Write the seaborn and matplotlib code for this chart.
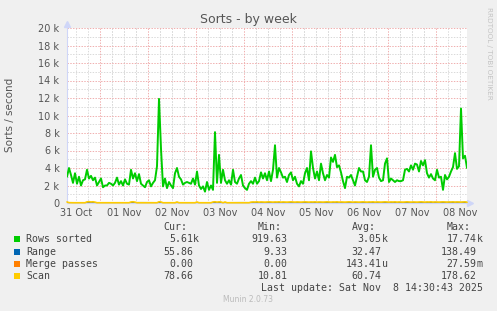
import numpy as np
import pandas as pd
import matplotlib
matplotlib.use("Agg")
import matplotlib.pyplot as plt
from matplotlib.patches import Rectangle
import seaborn as sns

# ---------------- data (values in thousands per second, hourly) ----------------
rows_sorted_k = [
    3.0, 4.0, 3.2, 2.3, 3.4, 2.2, 3.0, 2.0, 2.6, 2.7,
    3.8, 2.8, 3.1, 2.6, 2.9, 2.0, 2.4, 2.8, 1.8, 2.0,
    2.0, 2.3, 2.2, 2.0, 2.3, 2.9, 2.1, 2.5, 2.0, 2.7,
    2.2, 2.1, 3.8, 2.8, 3.4, 2.5, 3.3, 2.2, 2.0, 1.8,
    2.4, 2.6, 1.9, 2.3, 2.6, 4.2, 11.9, 6.2, 1.9, 2.8,
    1.7, 2.4, 2.0, 1.7, 3.4, 4.0, 3.0, 2.7, 2.1, 2.3,
    2.4, 2.3, 2.2, 2.8, 2.1, 3.6, 2.0, 1.6, 1.9, 1.3,
    2.4, 1.5, 2.0, 1.5, 8.1, 2.3, 5.5, 2.3, 3.8, 2.6,
    2.2, 2.6, 2.1, 3.8, 2.4, 2.2, 2.8, 3.2, 2.0, 1.7,
    1.5, 2.2, 2.5, 2.2, 2.9, 2.2, 2.5, 3.5, 2.8, 3.4,
    2.6, 3.6, 2.5, 3.8, 6.6, 2.9, 4.0, 3.5, 2.9, 3.0,
    2.4, 3.2, 3.5, 2.6, 3.0, 2.2, 1.9, 2.5, 2.2, 3.4,
    4.0, 2.6, 5.9, 4.0, 2.8, 3.6, 2.6, 4.5, 3.4, 2.6,
    3.2, 2.9, 5.2, 4.7, 5.5, 4.1, 4.3, 3.5, 2.5, 1.7,
    3.0, 2.9, 3.2, 2.6, 2.0, 3.0, 4.0, 3.6, 3.6, 2.6,
    2.4, 3.0, 6.6, 3.0, 3.8, 4.0, 2.9, 2.5, 2.6, 4.5,
    5.1, 2.4, 2.8, 2.6, 2.4, 2.6, 2.5, 2.5, 2.6, 3.8,
    3.9, 3.6, 4.3, 3.8, 4.5, 4.4, 3.6, 4.8, 4.3, 4.9,
    3.4, 2.9, 3.3, 2.8, 2.6, 3.8, 2.9, 3.0, 1.5, 3.2,
    2.7, 3.0, 3.6, 4.1, 5.7, 3.9, 4.2, 10.8, 5.1, 5.4,
    4.0,
]

scan_k = [
    0.12, 0.04, 0.03, 0.03, 0.03, 0.03, 0.03, 0.03, 0.03, 0.03,
    0.13, 0.15, 0.12, 0.14, 0.10, 0.03, 0.03, 0.03, 0.03, 0.03,
    0.03, 0.03, 0.03, 0.03, 0.03, 0.03, 0.03, 0.03, 0.03, 0.03,
    0.03, 0.03, 0.12, 0.14, 0.10, 0.03, 0.03, 0.03, 0.03, 0.03,
    0.03, 0.03, 0.03, 0.03, 0.03, 0.03, 0.14, 0.12, 0.03, 0.03,
    0.03, 0.03, 0.03, 0.03, 0.03, 0.12, 0.03, 0.03, 0.03, 0.03,
    0.03, 0.03, 0.03, 0.03, 0.03, 0.12, 0.03, 0.03, 0.03, 0.03,
    0.03, 0.03, 0.03, 0.12, 0.14, 0.10, 0.13, 0.12, 0.03, 0.12,
    0.03, 0.03, 0.03, 0.03, 0.03, 0.03, 0.03, 0.03, 0.03, 0.03,
    0.03, 0.03, 0.10, 0.12, 0.11, 0.13, 0.10, 0.12, 0.11, 0.10,
    0.12, 0.13, 0.11, 0.10, 0.12, 0.11, 0.13, 0.10, 0.12, 0.11,
    0.10, 0.12, 0.13, 0.11, 0.10, 0.12, 0.11, 0.10, 0.12, 0.13,
    0.11, 0.10, 0.12, 0.11, 0.13, 0.10, 0.12, 0.11, 0.10, 0.12,
    0.13, 0.11, 0.10, 0.12, 0.11, 0.13, 0.10, 0.12, 0.11, 0.10,
    0.12, 0.13, 0.11, 0.10, 0.12, 0.11, 0.10, 0.12, 0.13, 0.11,
    0.10, 0.12, 0.11, 0.13, 0.10, 0.12, 0.11, 0.10, 0.12, 0.13,
    0.11, 0.10, 0.12, 0.11, 0.13, 0.10, 0.12, 0.11, 0.10, 0.12,
    0.13, 0.11, 0.10, 0.12, 0.11, 0.10, 0.12, 0.13, 0.11, 0.10,
    0.12, 0.11, 0.13, 0.10, 0.12, 0.11, 0.10, 0.12, 0.13, 0.11,
    0.10, 0.12, 0.11, 0.13, 0.10, 0.12, 0.11, 0.10, 0.12, 0.13,
    0.08,
]

coarse_hours = [0, 12.5, 25, 37.5, 50, 62.5, 75, 87.5, 100, 112.5,
                125, 137.5, 150, 162.5, 175, 187.5, 200]
range_k = [0.03, 0.02, 0.03, 0.04, 0.03, 0.02, 0.03, 0.04, 0.03,
           0.03, 0.04, 0.03, 0.03, 0.04, 0.03, 0.05, 0.056]
merge_k = [0.0, 0.0, 0.0, 0.0, 0.0, 0.0, 0.0, 0.0, 0.0,
           0.0, 0.0, 0.0, 0.0, 0.0, 0.0, 0.0, 0.0]

day_labels = ["31 Oct", "01 Nov", "02 Nov", "03 Nov", "04 Nov",
              "05 Nov", "06 Nov", "07 Nov", "08 Nov"]
label_hours = [4.5, 28.5, 52.5, 76.5, 100.5, 124.5, 148.5, 172.5, 196.5]
midnight_hours = [16.5, 40.5, 64.5, 88.5, 112.5, 136.5, 160.5, 184.5]

ytick_values = [0, 2, 4, 6, 8, 10, 12, 14, 16, 18, 20]
ytick_labels = ["0", "2 k", "4 k", "6 k", "8 k", "10 k", "12 k",
                "14 k", "16 k", "18 k", "20 k"]

legend_names = ["Rows sorted", "Range", "Merge passes", "Scan"]
legend_colors = ["#00CC00", "#0066B3", "#FF8000", "#FFCC00"]
cur_vals = [("5.61", "k"), ("55.86", ""), ("0.00", ""), ("78.66", "")]
min_vals = [("919.63", ""), ("9.33", ""), ("0.00", ""), ("10.81", "")]
avg_vals = [("3.05", "k"), ("32.47", ""), ("143.41", "u"), ("60.74", "")]
max_vals = [("17.74", "k"), ("138.49", ""), ("27.59", "m"), ("178.62", "")]

# ---------------- figure ----------------
sns.set_theme(style="white")
plt.rcParams["font.family"] = ["DejaVu Sans"]

W, H = 497, 311
fig = plt.figure(figsize=(W / 100, H / 100), dpi=100, facecolor="#F0F0F0")
ax = fig.add_axes([67 / W, 1 - 203 / H, 400 / W, 175 / H])
ax.set_facecolor("white")

xmax = 200
ax.set_xlim(0, xmax)
ax.set_ylim(0, 20)

minor_c = "#DADADA"
major_c = "#F0B0B0"
dots = (0, (1.4, 1.4))
gkw = dict(lw=0.72, ls=dots)
# horizontal grid
for v in range(1, 20, 2):
    ax.axhline(v, color=minor_c, zorder=1, **gkw)
for v in ytick_values[1:]:
    ax.axhline(v, color=major_c, zorder=1.2, **gkw)
# vertical grid
for m in midnight_hours:
    for off in (-18, -12, -6, 6, 12, 18):
        h = m + off
        if 0 < h < xmax and (h - 16.5) % 24 != 0:
            ax.axvline(h, color=minor_c, zorder=1, **gkw)
for m in midnight_hours:
    ax.axvline(m, color=major_c, zorder=1.2, **gkw)

hours = np.arange(len(rows_sorted_k))
df = pd.DataFrame({"hour": hours, "rows": rows_sorted_k, "scan": scan_k})
dfc = pd.DataFrame({"hour": coarse_hours, "range": range_k, "merge": merge_k})

sns.lineplot(data=df, x="hour", y="rows", ax=ax, color="#00CC00", lw=1.4,
             zorder=3, estimator=None)
sns.lineplot(data=dfc, x="hour", y="range", ax=ax, color="#0066B3", lw=1.0,
             zorder=3.1, estimator=None)
sns.lineplot(data=dfc, x="hour", y="merge", ax=ax, color="#FF8000", lw=1.0,
             zorder=3.2, estimator=None)
sns.lineplot(data=df, x="hour", y="scan", ax=ax, color="#FFCC00", lw=1.2,
             zorder=3.3, estimator=None, clip_on=False)

ax.set_xlabel("")
ax.set_ylabel("")
ax.set_yticks(ytick_values)
ax.set_yticklabels(ytick_labels)
ax.set_xticks(label_hours)
ax.set_xticklabels(day_labels)
ax.tick_params(axis="y", length=0, pad=5.4, labelsize=7, colors="#555555")
ax.tick_params(axis="x", length=0, pad=3.6, labelsize=7, colors="#555555")

axis_c = "#CFD6F8"
for s in ("top", "right"):
    ax.spines[s].set_visible(False)
for s in ("left", "bottom"):
    ax.spines[s].set_color(axis_c)
    ax.spines[s].set_linewidth(0.8)
    ax.spines[s].set_zorder(2)
ax.plot([1.008], [0], marker=">", markersize=4, color=axis_c,
        transform=ax.transAxes, clip_on=False)
ax.plot([0], [1.025], marker="^", markersize=4, color=axis_c,
        transform=ax.transAxes, clip_on=False)

def fx(px):
    return px / W

def fy(py):
    return 1 - py / H

fig.text(fx(248), fy(19), "Sorts - by week", ha="center", va="center",
         fontsize=9, color="#555555")
fig.text(fx(10.5), fy(115), "Sorts / second", ha="center", va="center",
         rotation=90, fontsize=7.5, color="#555555")
fig.text(fx(488.5), fy(53), "RRDTOOL / TOBI OETIKER", ha="center", va="center",
         rotation=270, fontsize=5.2, color="#C4C4C4")

mono = dict(family="DejaVu Sans Mono", fontsize=7.1, color="#444444", va="center")
header_y = 227.3
for txt, x in (("Cur:", 163.3), ("Min:", 257.7), ("Avg:", 352.3), ("Max:", 446.7)):
    fig.text(fx(x), fy(header_y), txt, ha="left", **mono)

row_y = [239.3, 251.8, 263.7, 275.7]
col_end = [193, 287.3, 381.7, 476.7]
for i, name in enumerate(legend_names):
    y = row_y[i]
    fig.patches.append(Rectangle((fx(14), fy(y + 3)), 6 / W, 6 / H,
                                 transform=fig.transFigure,
                                 facecolor=legend_colors[i], edgecolor="none"))
    fig.text(fx(26), fy(y), name, ha="left", **mono)
    for vals, xe in zip((cur_vals, min_vals, avg_vals, max_vals), col_end):
        num, unit = vals[i]
        fig.text(fx(xe), fy(y), num, ha="right", **mono)
        if unit:
            fig.text(fx(xe), fy(y), unit, ha="left", **mono)

fig.text(fx(482.7), fy(287.7), "Last update: Sat Nov  8 14:30:43 2025",
         ha="right", **mono)
fig.text(fx(248), fy(300), "Munin 2.0.73", ha="center", va="center",
         fontsize=5.5, color="#BBBBBB")

fig.savefig("out.png", dpi=100, facecolor=fig.get_facecolor())
